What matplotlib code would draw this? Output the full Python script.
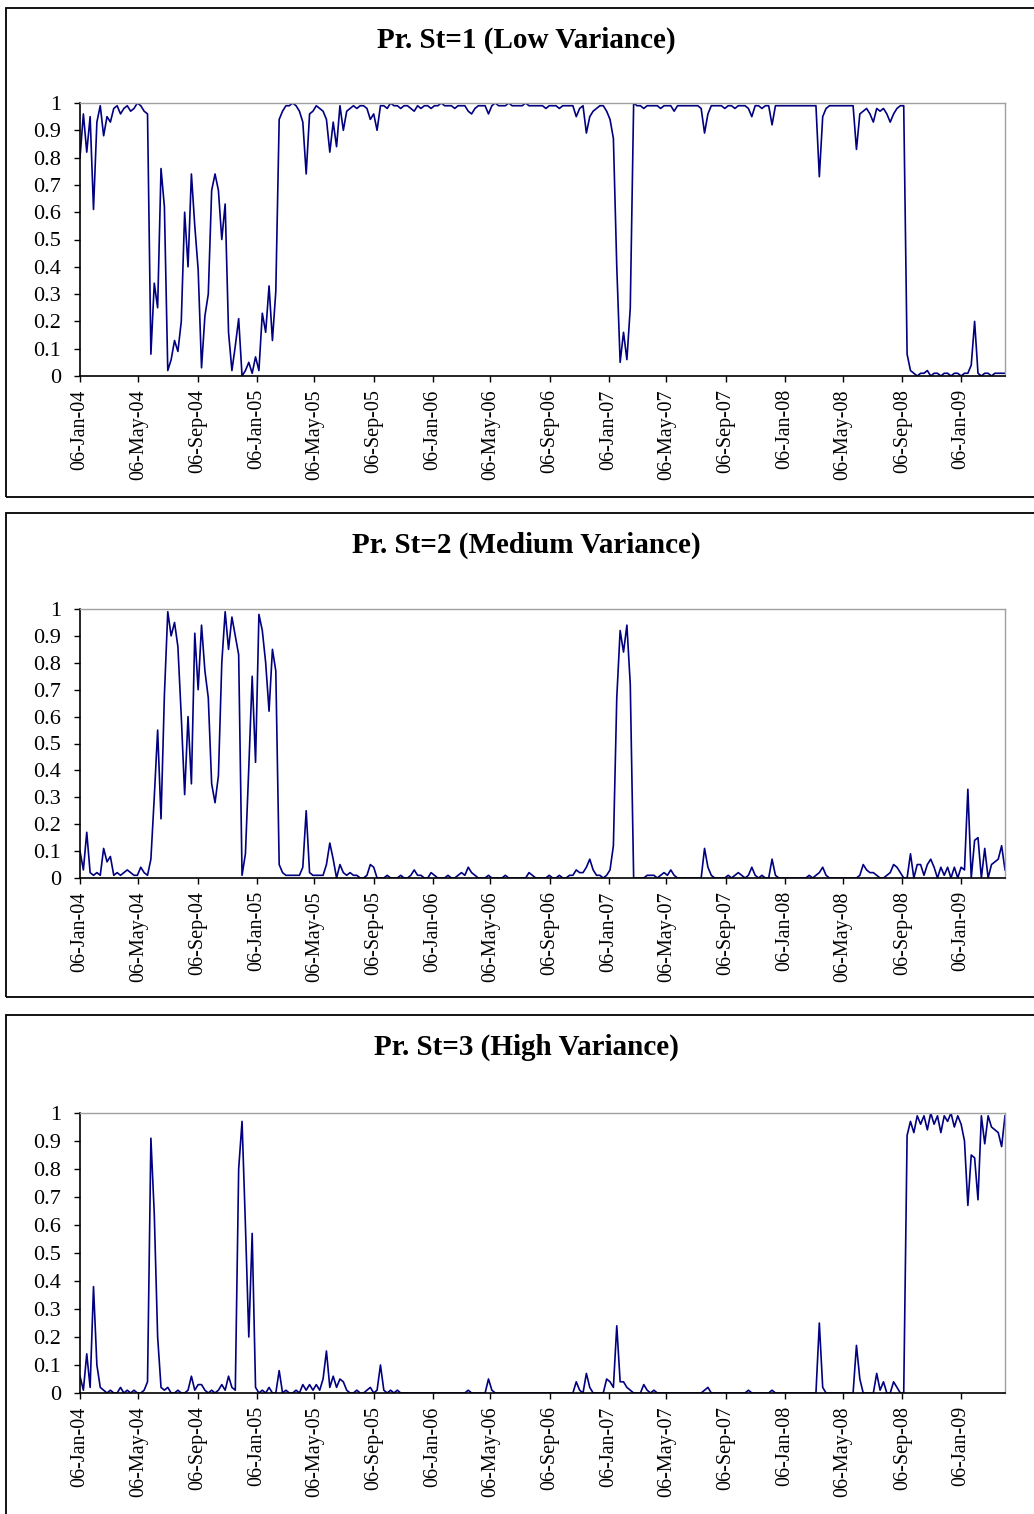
import matplotlib.pyplot as plt
import pandas as pd
from matplotlib.patches import Rectangle

# weekly smoothed probabilities, first week 06-Jan-04
p_low = [
    0.80, 0.96, 0.82, 0.95, 0.61, 0.93, 0.99, 0.88, 0.95, 0.93,
    0.98, 0.99, 0.96, 0.98, 0.99, 0.97, 0.98, 1.00, 0.99, 0.97,
    0.96, 0.08, 0.34, 0.25, 0.76, 0.62, 0.02, 0.06, 0.13, 0.09,
    0.20, 0.60, 0.40, 0.74, 0.55, 0.39, 0.03, 0.22, 0.30, 0.68,
    0.74, 0.68, 0.50, 0.63, 0.16, 0.02, 0.11, 0.21, 0.00, 0.02,
    0.05, 0.01, 0.07, 0.02, 0.23, 0.16, 0.33, 0.13, 0.31, 0.94,
    0.97, 0.99, 0.99, 1.00, 0.99, 0.97, 0.93, 0.74, 0.96, 0.97,
    0.99, 0.98, 0.97, 0.94, 0.82, 0.93, 0.84, 0.99, 0.90, 0.97,
    0.98, 0.99, 0.98, 0.99, 0.99, 0.98, 0.94, 0.96, 0.90, 0.99,
    0.99, 0.98, 1.00, 0.99, 0.99, 0.98, 0.99, 0.99, 0.98, 0.97,
    0.99, 0.98, 0.99, 0.99, 0.98, 0.99, 0.99, 1.00, 0.99, 0.99,
    0.99, 0.98, 0.99, 0.99, 0.99, 0.97, 0.96, 0.98, 0.99, 0.99,
    0.99, 0.96, 0.99, 1.00, 0.99, 0.99, 0.99, 1.00, 0.99, 0.99,
    0.99, 0.99, 1.00, 0.99, 0.99, 0.99, 0.99, 0.99, 0.98, 0.99,
    0.99, 0.99, 0.98, 0.99, 0.99, 0.99, 0.99, 0.95, 0.98, 0.99,
    0.89, 0.95, 0.97, 0.98, 0.99, 0.99, 0.97, 0.94, 0.87, 0.40,
    0.05, 0.16, 0.06, 0.25, 1.00, 0.99, 0.99, 0.98, 0.99, 0.99,
    0.99, 0.99, 0.98, 0.99, 0.99, 0.99, 0.97, 0.99, 0.99, 0.99,
    0.99, 0.99, 0.99, 0.99, 0.98, 0.89, 0.96, 0.99, 0.99, 0.99,
    0.99, 0.98, 0.99, 0.99, 0.98, 0.99, 0.99, 0.99, 0.98, 0.95,
    0.99, 0.99, 0.98, 0.99, 0.99, 0.92, 0.99, 0.99, 0.99, 0.99,
    0.99, 0.99, 0.99, 0.99, 0.99, 0.99, 0.99, 0.99, 0.99, 0.73,
    0.95, 0.98, 0.99, 0.99, 0.99, 0.99, 0.99, 0.99, 0.99, 0.99,
    0.83, 0.96, 0.97, 0.98, 0.96, 0.93, 0.98, 0.97, 0.98, 0.96,
    0.93, 0.96, 0.98, 0.99, 0.99, 0.08, 0.02, 0.01, 0.00, 0.01,
    0.01, 0.02, 0.00, 0.01, 0.01, 0.00, 0.01, 0.01, 0.00, 0.01,
    0.01, 0.00, 0.01, 0.01, 0.04, 0.20, 0.01, 0.00, 0.01, 0.01,
    0.00, 0.01, 0.01, 0.01, 0.01,
]

p_med = [
    0.10, 0.03, 0.17, 0.02, 0.01, 0.02, 0.01, 0.11, 0.06, 0.08,
    0.01, 0.02, 0.01, 0.02, 0.03, 0.02, 0.01, 0.01, 0.04, 0.02,
    0.01, 0.07, 0.30, 0.55, 0.22, 0.68, 0.99, 0.90, 0.95, 0.86,
    0.60, 0.31, 0.60, 0.35, 0.91, 0.70, 0.94, 0.77, 0.67, 0.35,
    0.28, 0.38, 0.80, 0.99, 0.85, 0.97, 0.90, 0.83, 0.01, 0.09,
    0.41, 0.75, 0.43, 0.98, 0.92, 0.80, 0.62, 0.85, 0.77, 0.05,
    0.02, 0.01, 0.01, 0.01, 0.01, 0.01, 0.04, 0.25, 0.02, 0.01,
    0.01, 0.01, 0.01, 0.05, 0.13, 0.07, 0.00, 0.05, 0.02, 0.01,
    0.02, 0.01, 0.01, 0.00, 0.00, 0.01, 0.05, 0.04, 0.00, 0.00,
    0.00, 0.01, 0.00, 0.00, 0.00, 0.01, 0.00, 0.00, 0.01, 0.03,
    0.01, 0.01, 0.00, 0.00, 0.02, 0.01, 0.00, 0.00, 0.00, 0.01,
    0.00, 0.00, 0.01, 0.02, 0.01, 0.04, 0.02, 0.01, 0.00, 0.00,
    0.00, 0.01, 0.00, 0.00, 0.00, 0.00, 0.01, 0.00, 0.00, 0.00,
    0.00, 0.00, 0.00, 0.02, 0.01, 0.00, 0.00, 0.00, 0.00, 0.01,
    0.00, 0.00, 0.01, 0.00, 0.00, 0.01, 0.01, 0.03, 0.02, 0.02,
    0.04, 0.07, 0.03, 0.01, 0.01, 0.00, 0.01, 0.03, 0.12, 0.67,
    0.92, 0.84, 0.94, 0.72, 0.00, 0.00, 0.00, 0.00, 0.01, 0.01,
    0.01, 0.00, 0.01, 0.02, 0.01, 0.03, 0.01, 0.00, 0.00, 0.00,
    0.00, 0.00, 0.00, 0.00, 0.00, 0.11, 0.04, 0.01, 0.00, 0.00,
    0.00, 0.00, 0.01, 0.00, 0.01, 0.02, 0.01, 0.00, 0.01, 0.04,
    0.01, 0.00, 0.01, 0.00, 0.00, 0.07, 0.01, 0.00, 0.00, 0.00,
    0.00, 0.00, 0.00, 0.00, 0.00, 0.00, 0.01, 0.00, 0.01, 0.02,
    0.04, 0.01, 0.00, 0.00, 0.00, 0.00, 0.00, 0.00, 0.00, 0.00,
    0.00, 0.01, 0.05, 0.03, 0.02, 0.02, 0.01, 0.00, 0.00, 0.01,
    0.02, 0.05, 0.04, 0.02, 0.00, 0.00, 0.09, 0.00, 0.05, 0.05,
    0.01, 0.05, 0.07, 0.04, 0.00, 0.04, 0.01, 0.04, 0.00, 0.04,
    0.00, 0.04, 0.03, 0.33, 0.00, 0.14, 0.15, 0.00, 0.11, 0.00,
    0.05, 0.06, 0.07, 0.12, 0.03,
]

p_high = [
    0.06, 0.01, 0.14, 0.02, 0.38, 0.10, 0.02, 0.01, 0.00, 0.01,
    0.00, 0.00, 0.02, 0.00, 0.01, 0.00, 0.01, 0.00, 0.00, 0.01,
    0.04, 0.91, 0.64, 0.20, 0.02, 0.01, 0.02, 0.00, 0.00, 0.01,
    0.00, 0.00, 0.01, 0.06, 0.01, 0.03, 0.03, 0.01, 0.00, 0.01,
    0.00, 0.01, 0.03, 0.01, 0.06, 0.02, 0.01, 0.80, 0.97, 0.60,
    0.20, 0.57, 0.02, 0.00, 0.01, 0.00, 0.02, 0.00, 0.00, 0.08,
    0.00, 0.01, 0.00, 0.00, 0.01, 0.00, 0.03, 0.01, 0.03, 0.01,
    0.03, 0.01, 0.05, 0.15, 0.02, 0.06, 0.02, 0.05, 0.04, 0.01,
    0.00, 0.00, 0.01, 0.00, 0.00, 0.01, 0.02, 0.00, 0.01, 0.10,
    0.01, 0.00, 0.01, 0.00, 0.01, 0.00, 0.00, 0.00, 0.00, 0.00,
    0.00, 0.00, 0.00, 0.00, 0.00, 0.00, 0.00, 0.00, 0.00, 0.00,
    0.00, 0.00, 0.00, 0.00, 0.00, 0.01, 0.00, 0.00, 0.00, 0.00,
    0.00, 0.05, 0.01, 0.00, 0.00, 0.00, 0.00, 0.00, 0.00, 0.00,
    0.00, 0.00, 0.00, 0.00, 0.00, 0.00, 0.00, 0.00, 0.00, 0.00,
    0.00, 0.00, 0.00, 0.00, 0.00, 0.00, 0.00, 0.04, 0.01, 0.00,
    0.07, 0.02, 0.00, 0.00, 0.00, 0.00, 0.05, 0.04, 0.02, 0.24,
    0.04, 0.04, 0.02, 0.01, 0.00, 0.00, 0.00, 0.03, 0.01, 0.00,
    0.01, 0.00, 0.00, 0.00, 0.00, 0.00, 0.00, 0.00, 0.00, 0.00,
    0.00, 0.00, 0.00, 0.00, 0.00, 0.01, 0.02, 0.00, 0.00, 0.00,
    0.00, 0.00, 0.00, 0.00, 0.00, 0.00, 0.00, 0.00, 0.01, 0.00,
    0.00, 0.00, 0.00, 0.00, 0.00, 0.01, 0.00, 0.00, 0.00, 0.00,
    0.00, 0.00, 0.00, 0.00, 0.00, 0.00, 0.00, 0.00, 0.00, 0.25,
    0.02, 0.00, 0.00, 0.00, 0.00, 0.00, 0.00, 0.00, 0.00, 0.00,
    0.17, 0.05, 0.00, 0.00, 0.00, 0.00, 0.07, 0.01, 0.04, 0.00,
    0.00, 0.04, 0.02, 0.00, 0.00, 0.92, 0.97, 0.93, 0.99, 0.96,
    0.99, 0.94, 1.00, 0.96, 0.99, 0.93, 0.99, 0.97, 1.00, 0.95,
    0.99, 0.96, 0.90, 0.67, 0.85, 0.84, 0.69, 0.99, 0.89, 0.99,
    0.95, 0.94, 0.93, 0.88, 0.99,
]

titles = ["Pr. St=1 (Low Variance)", "Pr. St=2 (Medium Variance)",
          "Pr. St=3 (High Variance)"]
x_ticks = ["06-Jan-04", "06-May-04", "06-Sep-04", "06-Jan-05", "06-May-05",
           "06-Sep-05", "06-Jan-06", "06-May-06", "06-Sep-06", "06-Jan-07",
           "06-May-07", "06-Sep-07", "06-Jan-08", "06-May-08", "06-Sep-08",
           "06-Jan-09"]
y_ticks = [0, 0.1, 0.2, 0.3, 0.4, 0.5, 0.6, 0.7, 0.8, 0.9, 1]
y_tick_labels = ["0", "0.1", "0.2", "0.3", "0.4", "0.5", "0.6", "0.7", "0.8",
                 "0.9", "1"]

W, H = 1034, 1514
SERIF = "Liberation Serif"


def panel(fig, values, title, frame_px, axes_px, title_y):
    """One boxed chart; pixel boxes are (left, top, right, bottom)."""
    fl, ft, fr, fb = frame_px
    fig.add_artist(Rectangle((fl / W, 1 - fb / H), (fr - fl) / W, (fb - ft) / H,
                             transform=fig.transFigure, fill=False,
                             edgecolor="black", linewidth=1.3, clip_on=False))
    fig.text(526 / W, 1 - title_y / H, title, ha="center", va="center",
             fontsize=21, fontweight="bold", family=SERIF)

    al, at, ar, ab = axes_px
    ax = fig.add_axes([al / W, 1 - ab / H, (ar - al) / W, (ab - at) / H])
    dates = pd.date_range("2004-01-06", periods=len(values), freq="7D")
    ax.plot(dates, values, color="#000080", linewidth=1.2)

    ax.set_xlim(dates[0], dates[-1])
    ax.set_ylim(0, 1)
    ticks = pd.to_datetime(x_ticks, format="%d-%b-%y")
    ax.set_xticks(ticks)
    ax.set_xticklabels(x_ticks, rotation=90, family=SERIF, fontsize=14.5)
    ax.set_yticks(y_ticks)
    ax.set_yticklabels(y_tick_labels, family=SERIF, fontsize=16)
    ax.tick_params(axis="both", direction="out", length=4.5, width=1.0,
                   color="black")
    ax.tick_params(axis="x", pad=5)
    ax.tick_params(axis="y", pad=9)

    for side in ("left", "bottom"):
        ax.spines[side].set_color("black")
        ax.spines[side].set_linewidth(1.2)
    for side in ("top", "right"):
        ax.spines[side].set_color("#a0a0a0")
        ax.spines[side].set_linewidth(1.0)
    return ax


def main():
    fig = plt.figure(figsize=(W / 100, H / 100), dpi=100)
    fig.patch.set_facecolor("white")

    panel(fig, p_low, titles[0], (6, 8, 1040, 497), (80, 103, 1005, 376), 40)
    panel(fig, p_med, titles[1], (6, 513, 1040, 997), (80, 609, 1005, 878), 545)
    panel(fig, p_high, titles[2], (6, 1015, 1040, 1520), (80, 1113, 1005, 1393),
          1047)

    fig.savefig("out.png", dpi=100)


if __name__ == "__main__":
    main()
